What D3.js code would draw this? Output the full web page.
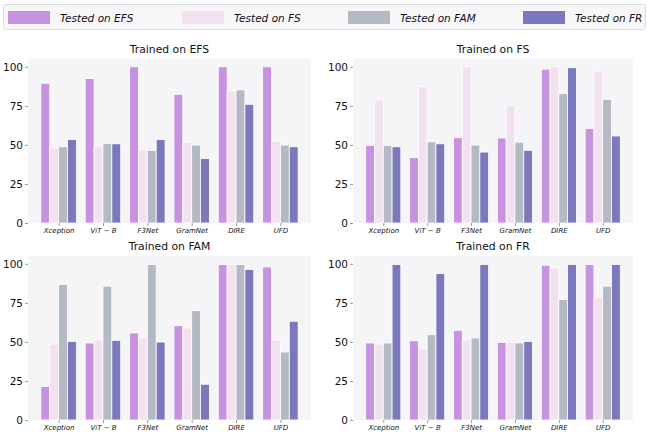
<!DOCTYPE html>
<html>
<head>
<meta charset="utf-8">
<script src="https://cdn.jsdelivr.net/npm/d3@7"></script>
<style>
  body { margin: 0; background: #fff; }
  text { font-family: "DejaVu Sans", sans-serif; }
</style>
</head>
<body>
<div id="chart"></div>
<script>
// models on the x axis
var models = ["Xception", "ViT \u2212 B", "F3Net", "GramNet", "DIRE", "UFD"];
var testSets = ["Tested on EFS", "Tested on FS", "Tested on FAM", "Tested on FR"];
var panelTitles = ["Trained on EFS", "Trained on FS", "Trained on FAM", "Trained on FR"];
var yTicks = [0, 25, 50, 75, 100];

// each row: one model, values for EFS, FS, FAM, FR test sets
var trainedEFS = [
  [89.5, 48.2, 48.8, 53.5],
  [92.5, 49.3, 51.0, 50.7],
  [100, 47.1, 46.5, 53.5],
  [82.4, 51.8, 49.9, 41.3],
  [100, 84.6, 85.2, 76.0],
  [100, 52.5, 49.9, 48.8]
];
var trainedFS = [
  [49.7, 78.8, 49.7, 48.8],
  [41.8, 87.4, 52.0, 50.7],
  [54.6, 100, 49.9, 45.4],
  [54.4, 75.4, 51.8, 46.5],
  [98.5, 100, 82.9, 99.4],
  [60.4, 97.2, 79.2, 55.7]
];
var trainedFAM = [
  [21.4, 48.6, 86.7, 50.3],
  [49.3, 51.4, 85.7, 51.0],
  [55.7, 52.5, 99.6, 49.9],
  [60.4, 58.9, 70.0, 22.9],
  [99.6, 99.6, 99.6, 96.4],
  [98.0, 51.2, 43.5, 63.2]
];
var trainedFR = [
  [49.3, 48.6, 49.3, 99.6],
  [50.7, 45.6, 54.6, 93.8],
  [57.4, 51.4, 52.5, 99.6],
  [49.7, 49.7, 49.3, 50.3],
  [99.1, 97.4, 77.1, 99.6],
  [99.6, 78.6, 85.7, 99.6]
];

var colors = ["#c792df", "#f2e1ef", "#b3bac3", "#7b79bb"];

var W = 649, H = 435;
var svg = d3.select("#chart").append("svg")
  .attr("width", W).attr("height", H);

// legend
var legend = svg.append("g");
legend.append("rect")
  .attr("x", 3.5).attr("y", 4.5).attr("width", 642).attr("height", 25)
  .attr("rx", 2).attr("fill", "#f7f7f9").attr("stroke", "#dcdcdf");
var legX = [8, 182, 348, 523];
testSets.forEach(function(t, i) {
  legend.append("rect")
    .attr("x", legX[i]).attr("y", 11).attr("width", 42).attr("height", 13)
    .attr("fill", colors[i]);
  legend.append("text")
    .attr("x", legX[i] + 52).attr("y", 21.5)
    .attr("font-size", 10.5).attr("font-style", "italic").attr("fill", "#111")
    .text(t);
});

var panels = [
  {data: trainedEFS, x0: 28, x1: 311, y0: 59, y1: 223},
  {data: trainedFS, x0: 353, x1: 633, y0: 59, y1: 223},
  {data: trainedFAM, x0: 28, x1: 311, y0: 256, y1: 420},
  {data: trainedFR, x0: 353, x1: 633, y0: 256, y1: 420}
];

var barW = 0.2;

panels.forEach(function(p, pi) {
  var x = d3.scaleLinear().domain([-0.69, 5.69]).range([p.x0, p.x1]);
  var y = d3.scaleLinear().domain([0, 105]).range([p.y1, p.y0]);
  var g = svg.append("g");

  g.append("rect")
    .attr("x", p.x0).attr("y", p.y0)
    .attr("width", p.x1 - p.x0).attr("height", p.y1 - p.y0)
    .attr("fill", "#f5f5f8");

  g.append("text")
    .attr("x", (p.x0 + p.x1) / 2).attr("y", p.y0 - 6)
    .attr("text-anchor", "middle").attr("font-size", 10.8).attr("fill", "#111")
    .text(panelTitles[pi]);

  p.data.forEach(function(row, mi) {
    g.selectAll(null)
      .data(row)
      .enter()
      .append("rect")
      .attr("x", function(d, k) { return x(mi + (k - 2) * barW); })
      .attr("y", function(d) { return y(d); })
      .attr("width", x(barW) - x(0))
      .attr("height", function(d) { return y(0) - y(d); })
      .attr("fill", function(d, k) { return colors[k]; })
      .attr("stroke", "#fff")
      .attr("stroke-width", 0.8);
  });

  var yAxis = g.append("g")
    .attr("transform", "translate(" + p.x0 + ",0)")
    .call(d3.axisLeft(y).tickValues(yTicks).tickSize(3).tickPadding(2));
  yAxis.select(".domain").remove();
  yAxis.selectAll("line").attr("stroke", "#555").attr("stroke-width", 0.6);
  yAxis.selectAll("text").attr("font-size", 10.5).attr("fill", "#111")
    .attr("font-family", "DejaVu Sans, sans-serif");

  var xAxis = g.append("g")
    .attr("transform", "translate(0," + p.y1 + ")")
    .call(d3.axisBottom(x).tickValues(d3.range(models.length))
      .tickFormat(function(i) { return models[i]; }).tickSize(3).tickPadding(2));
  xAxis.select(".domain").remove();
  xAxis.selectAll("line").attr("stroke", "#555").attr("stroke-width", 0.6);
  xAxis.selectAll("text").attr("font-size", 7).attr("font-style", "italic")
    .attr("fill", "#111").attr("font-family", "DejaVu Sans, sans-serif");
});
</script>
</body>
</html>
